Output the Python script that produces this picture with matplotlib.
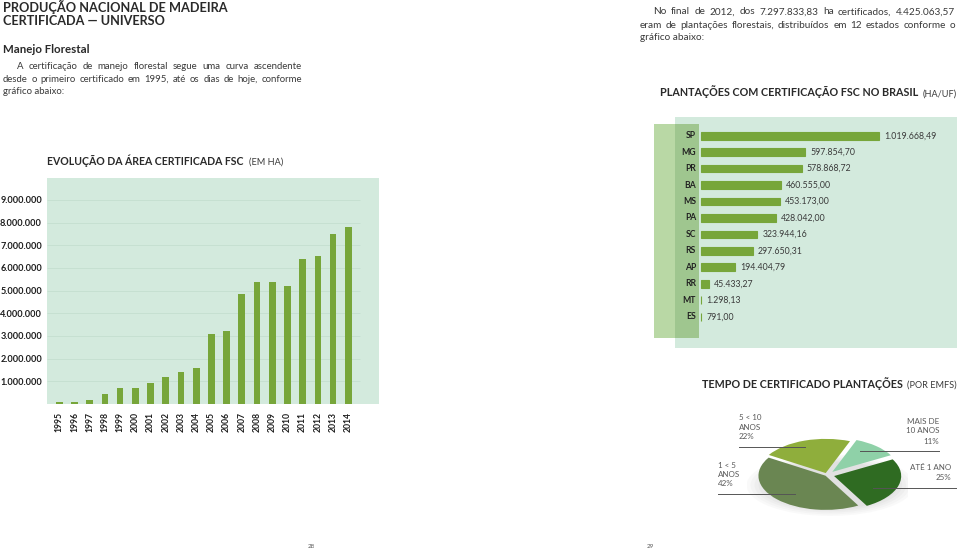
import matplotlib
matplotlib.use('Agg')
import matplotlib.pyplot as plt
from matplotlib.patches import Rectangle, Ellipse
from matplotlib.lines import Line2D

# ---------------- data ----------------
years = [str(y) for y in range(1995, 2015)]
area_ha = [0.10e6, 0.10e6, 0.18e6, 0.44e6, 0.69e6, 0.69e6, 0.94e6, 1.20e6,
           1.40e6, 1.60e6, 3.09e6, 3.23e6, 4.84e6, 5.37e6, 5.37e6, 5.21e6,
           6.41e6, 6.54e6, 7.49e6, 7.79e6]
ytick_values = [1e6, 2e6, 3e6, 4e6, 5e6, 6e6, 7e6, 8e6, 9e6]
ytick_labels = ['1.000.000', '2.000.000', '3.000.000', '4.000.000', '5.000.000',
                '6.000.000', '7.000.000', '8.000.000', '9.000.000']

states = ['SP', 'MG', 'PR', 'BA', 'MS', 'PA', 'SC', 'RS', 'AP', 'RR', 'MT', 'ES']
state_ha = [1019668.49, 597854.70, 578868.72, 460555.00, 453173.00, 428042.00,
            323944.16, 297650.31, 194404.79, 45433.27, 1298.13, 791.00]

tempo_pct = [22, 11, 25, 42]
tempo_colors = ['#8fae3c', '#8fd1a8', '#2f6b22', '#6a8652']

W, H = 960, 550
FAM = ['Lato', 'DejaVu Sans']
plt.rcParams['font.family'] = FAM

fig = plt.figure(figsize=(W / 100, H / 100), dpi=100)
fig.patch.set_facecolor('white')
renderer = fig.canvas.get_renderer()

MINT = '#d3eadd'
BAR = '#77a63a'
DARK = '#2a2a2a'
TXT = '#3a3a3a'


def ftext(x, y, s, size, weight='normal', color=TXT, ha='left', va='baseline', **kw):
    return fig.text(x / W, 1 - y / H, s, fontsize=size, fontweight=weight,
                    color=color, ha=ha, va=va, **kw)


def twidth(s, size, **kw):
    t = ftext(0, 0, s, size, **kw)
    w = t.get_window_extent(renderer).width
    t.remove()
    return w


def fit_text(x0, x1, y, s, size, **kw):
    t = ftext(x0, y, s, size, **kw)
    w = t.get_window_extent(renderer).width
    t.set_fontsize(size * (x1 - x0) / w)
    return t


def justify(x0, x1, y, s, size, **kw):
    words = s.split(' ')
    widths = [twidth(wd, size, **kw) for wd in words]
    gap = (x1 - x0 - sum(widths)) / (len(words) - 1)
    x = x0
    for wd, w in zip(words, widths):
        ftext(x, y, wd, size, **kw)
        x += w + gap


def paragraph(lines, size_ref_idx, fill=0.965, base=7.0):
    # lines: list of (x0, x1, y, text, justified)
    x0, x1, _, s, _ = lines[size_ref_idx]
    size = base * (x1 - x0) * fill / twidth(s, base)
    for a, b, y, s, j in lines:
        if j:
            justify(a, b, y, s, size)
        else:
            ftext(a, y, s, size)


def title(x0, x1, y, bold, paren, psize=6.6):
    wp = twidth(paren, psize)
    fit_text(x0, x1 - wp - 3, y, bold, 7, weight='bold', color=DARK)
    ftext(x1, y, paren, psize, ha='right', color=TXT)


def hline(x0, x1, y, color='#555555', lw=0.7):
    fig.add_artist(Line2D([x0 / W, x1 / W], [1 - y / H, 1 - y / H],
                          transform=fig.transFigure, color=color, lw=lw))


def br(v):
    return f"{v:,.2f}".replace(',', 'X').replace('.', ',').replace('X', '.')


# ---------------- left page text ----------------
fit_text(3, 227, 11.7, 'PRODUÇÃO NACIONAL DE MADEIRA', 9, weight='bold', color=DARK)
fit_text(3, 165, 25.2, 'CERTIFICADA — UNIVERSO', 9, weight='bold', color=DARK)
fit_text(3, 90, 52.7, 'Manejo Florestal', 8, weight='bold', color=DARK)
paragraph([
    (17, 302, 69, 'A certificação de manejo florestal segue uma curva ascendente', True),
    (3, 302, 82, 'desde o primeiro certificado em 1995, até os dias de hoje, conforme', True),
    (3, 302, 94.5, 'gráfico abaixo:', False),
], 1)

title(47, 283, 165, 'EVOLUÇÃO DA ÁREA CERTIFICADA FSC', '(EM HA)')

# ---------------- left bar chart ----------------
ax1 = fig.add_axes([47 / W, 1 - 404 / H, (379 - 47) / W, (404 - 178) / H])
ax1.set_facecolor(MINT)
x = list(range(len(years)))
ax1.bar(x, area_ha, width=0.44, color=BAR, zorder=3)
ax1.hlines(ytick_values, -0.81, 19.8, color='#c4dfcf', lw=0.6, zorder=1)
ax1.set_xlim(-0.81, 21.02)
ax1.set_ylim(0, 9.97e6)
ax1.set_xticks(x)
ax1.set_xticklabels(years, rotation=90, fontsize=6.2, fontweight='bold', color='#1e1e1e')
ax1.set_yticks(ytick_values)
ax1.set_yticklabels(ytick_labels, fontsize=6.6, fontweight='bold', color='#1e1e1e')
ax1.tick_params(axis='both', length=0)
ax1.tick_params(axis='x', pad=5.6)
ax1.tick_params(axis='y', pad=3.6)
for s in ax1.spines.values():
    s.set_visible(False)

# ---------------- right page text ----------------
paragraph([
    (653, 955, 14.5, 'No final de 2012, dos 7.297.833,83 ha certificados, 4.425.063,57', True),
    (640, 955, 27.5, 'eram de plantações florestais, distribuídos em 12 estados conforme o', True),
    (640, 955, 40, 'gráfico abaixo:', False),
], 1)

title(660, 957, 96.5, 'PLANTAÇÕES COM CERTIFICAÇÃO FSC NO BRASIL', '(HA/UF)')

# ---------------- right horizontal bar chart ----------------
PXM = 174.3 / 1e6  # px per ha
ax2 = fig.add_axes([675 / W, 1 - 348 / H, (957 - 675) / W, (348 - 117) / H])
ax2.set_facecolor(MINT)
ax2.set_xlim(-(701 - 675) / PXM, (957 - 701) / PXM)
ax2.set_ylim(12.9, -1.137)
ypos = list(range(len(states)))
ax2.barh(ypos, state_ha, height=0.47, color=BAR, edgecolor=BAR, lw=0.8, zorder=3)
ax2.add_patch(Rectangle((654 / W, 1 - 338 / H), (675 - 654) / W, (338 - 124) / H,
                        transform=fig.transFigure, color='#b9d8a5', lw=0,
                        clip_on=False, zorder=0.5))
ax2.add_patch(Rectangle((675 / W, 1 - 338 / H), (699 - 675) / W, (338 - 124) / H,
                        transform=fig.transFigure, color='#9fc68f', lw=0,
                        clip_on=False, zorder=0.5))
for i, (st, v) in enumerate(zip(states, state_ha)):
    ax2.text(-5 / PXM, i, st, ha='right', va='center', fontsize=6.2,
             fontweight='bold', color='#222222', zorder=4)
    ax2.text(v + 5 / PXM, i, br(v), ha='left', va='center', fontsize=6.3,
             color=TXT, zorder=4)
ax2.set_xticks([])
ax2.set_yticks([])
for s in ax2.spines.values():
    s.set_visible(False)

# ---------------- pie ----------------
title(702, 957, 388, 'TEMPO DE CERTIFICADO PLANTAÇÕES', '(POR EMFS)')

ax3 = fig.add_axes([746.5 / W, 1 - 516 / H, 161 / W, 82 / H])
for k, a in enumerate([0.05, 0.05, 0.06, 0.07, 0.08]):
    ax3.add_patch(Ellipse((0.05, -0.30), 2.5 - 0.12 * k, 1.8 - 0.1 * k,
                          color='#9a9a9a', alpha=a, lw=0, zorder=0))
ax3.pie(tempo_pct, colors=tempo_colors, startangle=148, counterclock=False,
        explode=[0.06, 0.12, 0.11, 0.03], radius=1.0,
        wedgeprops=dict(lw=0))
ax3.set_aspect('auto')
ax3.set_xlim(-1.2, 1.2)
ax3.set_ylim(-1.2, 1.2)
ax3.axis('off')

PC = '#5a5a5a'
PS = 5.8
for yy, s in zip([417, 427, 436.5], ['5 < 10', 'ANOS', '22%']):
    ftext(739, yy, s, PS, va='center', color=PC)
hline(739, 805, 447)
for yy, s in zip([466, 474.5, 483.5], ['1 < 5', 'ANOS', '42%']):
    ftext(718, yy, s, PS, va='center', color=PC)
hline(718, 795, 494)
for yy, s in zip([421, 430.5, 441], ['MAIS DE', '10 ANOS', '11%']):
    ftext(939, yy, s, PS, va='center', ha='right', color=PC)
hline(860, 939, 451)
for yy, s in zip([467, 478], ['ATÉ 1 ANO', '25%']):
    ftext(951, yy, s, PS, va='center', ha='right', color=PC)
hline(873, 956, 488)

# page numbers
ftext(311, 547, '28', 4.5, ha='center', va='center', color='#555555')
ftext(650, 547, '29', 4.5, ha='center', va='center', color='#555555')

fig.savefig('out.png', dpi=100, facecolor='white')
